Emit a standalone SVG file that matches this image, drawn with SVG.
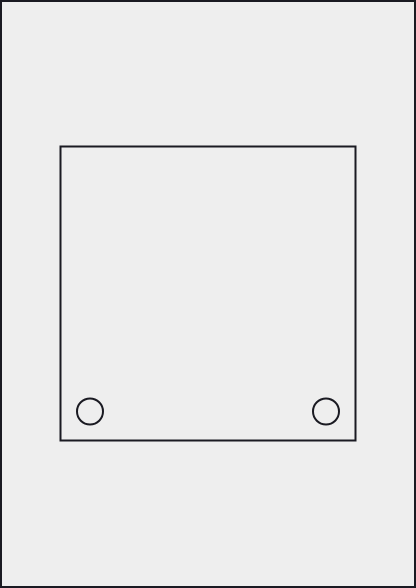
<svg xmlns="http://www.w3.org/2000/svg" width="416" height="588" viewBox="0 0 416 588">
<style>
.line{fill:none;stroke:#1a1a22;stroke-width:2}
</style>
<rect x="0" y="0" width="416" height="588" fill="#eeeeee"/>
<rect class="line" x="1" y="1" width="414" height="586"/>
<g id="frame">
<rect class="line" x="60.5" y="146.5" width="295" height="294"/>
</g>
<g id="hole-left">
<circle class="line" cx="90" cy="411.5" r="13"/>
</g>
<g id="hole-right">
<circle class="line" cx="326" cy="411.5" r="13"/>
</g>
<g id="connectors"/>
</svg>
